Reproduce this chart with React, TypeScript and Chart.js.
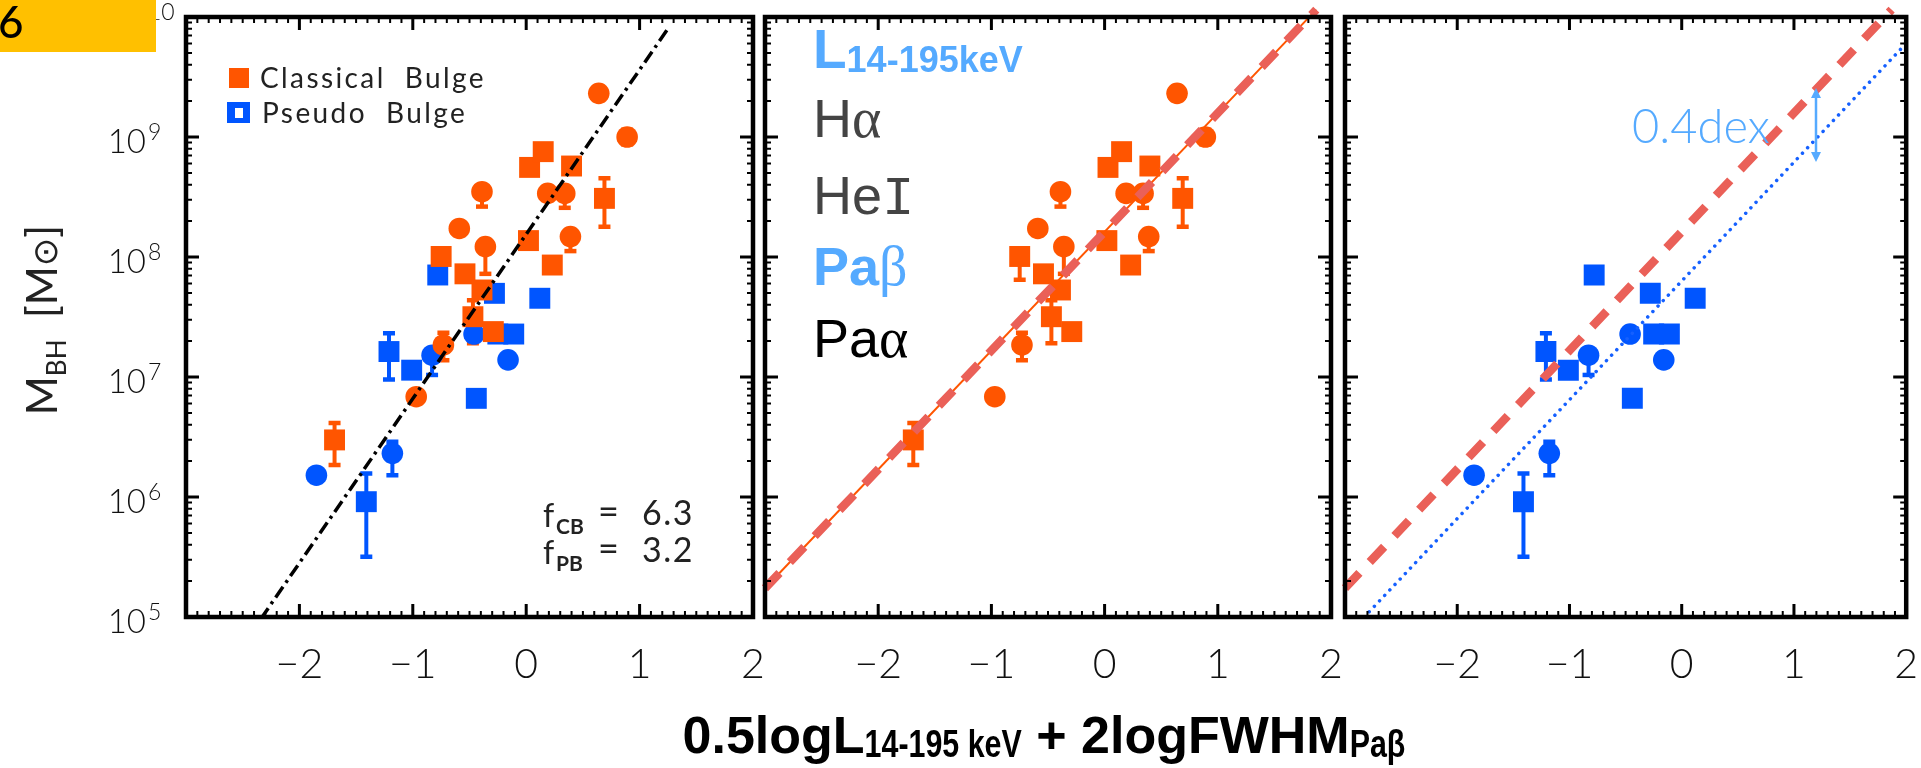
import React, { useEffect, useRef } from 'react';
import { Chart, registerables } from 'chart.js';

Chart.register(...registerables);

const PAGE_W = 1921;
const PAGE_H = 768;

// ---------- axes ----------
const xRange = [-3, 2];
const yRange = [1e5, 1e10];
const xTickLabelValues = [-2, -1, 0, 1, 2];
const xTickLabels = ['\u22122', '\u22121', '0', '1', '2'];
const yDecadeExponents = [5, 6, 7, 8, 9, 10];

// ---------- Classical bulges (orange) ----------
const cbX = [-1.69, -0.97, -0.75, -0.73, -0.59, -0.54, -0.47, -0.39, -0.39, -0.36, -0.29, 0.02, 0.03, 0.15, 0.19, 0.34, 0.39, 0.40, 0.64, 0.69, 0.89, 0.23];
const cbMass = [2.99e6, 6.85e6, 1.01e8, 1.85e7, 1.73e8, 7.24e7, 3.18e7, 5.31e7, 3.5e8, 1.22e8, 2.39e7, 1.37e8, 5.58e8, 7.55e8, 3.39e8, 3.39e8, 1.48e8, 5.73e8, 2.31e9, 3.08e8, 1.0e9, 8.57e7];
const cbErrLow = [1.85e6, null, 6.46e7, 1.38e7, null, null, 1.91e7, null, 2.63e8, 7.24e7, null, null, null, null, null, 2.57e8, 1.12e8, null, null, 1.79e8, 8.7e8, null];
const cbErrHigh = [4.14e6, null, null, 2.34e7, null, null, 4.37e7, null, null, null, null, null, null, null, null, null, null, null, null, 4.53e8, 1.15e9, null];
const cbShape = ['s', 'c', 's', 'c', 'c', 's', 's', 's', 'c', 'c', 's', 's', 's', 's', 'c', 'c', 'c', 's', 'c', 's', 'c', 's'];

// ---------- Pseudo bulges (blue) ----------
const pbX = [-1.85, -1.41, -1.21, -1.18, -1.01, -0.83, -0.78, -0.46, -0.44, -0.28, -0.25, -0.16, -0.11, 0.12];
const pbMass = [1.52e6, 9.14e5, 1.63e7, 2.31e6, 1.14e7, 1.52e7, 7.08e7, 2.28e7, 6.64e6, 4.98e7, 2.28e7, 1.39e7, 2.28e7, 4.53e7];
const pbErrLow = [null, 3.18e5, 9.55e6, 1.52e6, null, 1.04e7, null, null, null, null, null, null, null, null];
const pbErrHigh = [null, 1.57e6, 2.31e7, 2.89e6, null, null, null, null, null, null, null, null, null, null];
const pbShape = ['c', 's', 's', 'c', 's', 'c', 's', 'c', 's', 's', 's', 'c', 's', 's'];

// ---------- relations: log M = a + b x ----------
const dashDotFitX = [-2.34, 1.26];
const dashDotFitCoef = [8.19, 1.37];
const cbRelX = [-3, 1.87];
const cbRelCoef = [8.21, 0.99];
const pbRelX = [-2.83, 2];
const pbRelCoef = [7.8, 0.99];

// ---------- layout ----------
const panelLeft = [186, 765, 1345];
const panelRight = [753, 1331, 1913];
const panelTop = 17;
const panelBottom = 617;

const ORANGE = '#FF5500';
const BLUE = '#0055FF';
const SALMON = '#EA6058';
const LIGHTBLUE = '#55AAFF';
const SANS = '"Liberation Sans", Arial, sans-serif';
const LATO = 'Lato, "Open Sans", sans-serif';

type Seg = { t: string; font: string; dy?: number; sx?: number; color?: string };

function segW(ctx: CanvasRenderingContext2D, s: Seg) {
  ctx.font = s.font;
  return ctx.measureText(s.t).width * (s.sx ?? 1);
}

function drawSegs(ctx: CanvasRenderingContext2D, segs: Seg[], x: number, y: number, align: 'left' | 'center') {
  const total = segs.reduce((a, s) => a + segW(ctx, s), 0);
  let cx = align === 'center' ? x - total / 2 : x;
  for (const s of segs) {
    const w = segW(ctx, s);
    ctx.save();
    ctx.font = s.font;
    if (s.color) ctx.fillStyle = s.color;
    ctx.textAlign = 'left';
    ctx.textBaseline = 'alphabetic';
    ctx.translate(cx, y + (s.dy ?? 0));
    ctx.scale(s.sx ?? 1, 1);
    ctx.fillText(s.t, 0, 0);
    ctx.restore();
    cx += w;
  }
}

function pointsDataset(label: string, xs: number[], ms: number[], shapes: string[], color: string, lo: (number | null)[], hi: (number | null)[]) {
  return {
    label,
    data: xs.map((x, k) => ({ x, y: ms[k] })),
    showLine: false,
    pointStyle: shapes.map((s) => (s === 's' ? 'rect' : 'circle')),
    pointRadius: shapes.map((s) => (s === 's' ? 14.8 : 10.8)),
    pointHoverRadius: shapes.map((s) => (s === 's' ? 14.8 : 10.8)),
    pointBackgroundColor: color,
    pointBorderColor: color,
    pointBorderWidth: 0,
    errLow: lo,
    errHigh: hi,
    errColor: color,
  };
}

function relDataset(label: string, xr: number[], coef: number[], color: string, width: number, dash: number[], cap: string, noClip: boolean) {
  const ds: any = {
    label,
    data: xr.map((x) => ({ x, y: Math.pow(10, coef[0] + coef[1] * x) })),
    showLine: true,
    pointRadius: 0,
    pointHoverRadius: 0,
    borderColor: color,
    backgroundColor: color,
    borderWidth: width,
    borderDash: dash,
    borderCapStyle: cap,
    fill: false,
    tension: 0,
  };
  if (noClip) ds.clip = false;
  return ds;
}

function drawFrame(chart: any) {
  const { ctx, chartArea: a } = chart;
  const xs = chart.scales.x;
  const ys = chart.scales.y;
  ctx.save();
  ctx.strokeStyle = '#000';
  ctx.lineCap = 'butt';
  for (let i = -30; i <= 20; i++) {
    const px = xs.getPixelForValue(i / 10);
    const major = i % 10 === 0;
    const len = major ? 13 : 6;
    ctx.lineWidth = major ? 3 : 2;
    ctx.beginPath();
    ctx.moveTo(px, a.bottom);
    ctx.lineTo(px, a.bottom - len);
    ctx.moveTo(px, a.top);
    ctx.lineTo(px, a.top + len);
    ctx.stroke();
  }
  for (const e of yDecadeExponents) {
    for (let m = 1; m <= 9; m++) {
      const v = m * Math.pow(10, e);
      if (v > yRange[1] * 1.0001) break;
      const py = ys.getPixelForValue(v);
      const major = m === 1;
      const len = major ? 13 : 6;
      ctx.lineWidth = major ? 3 : 2;
      ctx.beginPath();
      ctx.moveTo(a.left, py);
      ctx.lineTo(a.left + len, py);
      ctx.moveTo(a.right, py);
      ctx.lineTo(a.right - len, py);
      ctx.stroke();
    }
  }
  ctx.lineWidth = 4.5;
  ctx.strokeRect(a.left, a.top, a.right - a.left, a.bottom - a.top);
  ctx.restore();
}

function drawErrorBars(chart: any) {
  const { ctx } = chart;
  const xs = chart.scales.x;
  const ys = chart.scales.y;
  chart.data.datasets.forEach((ds: any) => {
    if (!ds.errLow) return;
    ctx.save();
    ctx.strokeStyle = ds.errColor;
    ctx.lineCap = 'butt';
    ds.data.forEach((p: any, k: number) => {
      const lo = ds.errLow[k];
      const hi = ds.errHigh[k];
      if (lo == null && hi == null) return;
      const px = xs.getPixelForValue(p.x);
      const py = ys.getPixelForValue(p.y);
      const yl = lo == null ? py : ys.getPixelForValue(lo);
      const yh = hi == null ? py : ys.getPixelForValue(hi);
      ctx.lineWidth = 4;
      ctx.beginPath();
      ctx.moveTo(px, yl);
      ctx.lineTo(px, yh);
      ctx.stroke();
      ctx.lineWidth = 4.5;
      ctx.beginPath();
      if (lo != null) {
        ctx.moveTo(px - 6, yl);
        ctx.lineTo(px + 6, yl);
      }
      if (hi != null) {
        ctx.moveTo(px - 6, yh);
        ctx.lineTo(px + 6, yh);
      }
      ctx.stroke();
    });
    ctx.restore();
  });
}

function drawXTickLabels(chart: any) {
  const { ctx } = chart;
  const xs = chart.scales.x;
  ctx.save();
  ctx.fillStyle = '#111';
  ctx.font = `300 41px ${LATO}`;
  ctx.textAlign = 'center';
  ctx.textBaseline = 'alphabetic';
  xTickLabelValues.forEach((v, k) => {
    ctx.fillText(xTickLabels[k], xs.getPixelForValue(v), 678);
  });
  ctx.restore();
}

function drawPanel0(chart: any) {
  const { ctx } = chart;
  const ys = chart.scales.y;
  ctx.save();
  ctx.fillStyle = '#111';
  // y tick labels
  for (const e of yDecadeExponents) {
    const py = ys.getPixelForValue(Math.pow(10, e));
    ctx.font = `300 33px ${LATO}`;
    ctx.textAlign = 'right';
    ctx.textBaseline = 'alphabetic';
    ctx.fillText('10', 146, py + 16);
    ctx.font = `300 23px ${LATO}`;
    ctx.textAlign = 'left';
    ctx.fillText(String(e), 148, py + 3);
  }
  // legend
  ctx.fillStyle = ORANGE;
  ctx.fillRect(229, 68, 20, 20);
  ctx.fillStyle = BLUE;
  ctx.fillRect(227, 102, 23, 21);
  ctx.fillStyle = '#fff';
  ctx.fillRect(235, 108, 8, 10);
  ctx.fillStyle = '#222';
  ctx.font = `28px ${LATO}`;
  ctx.textAlign = 'left';
  (ctx as any).letterSpacing = '2.4px';
  ctx.fillText('Classical  Bulge', 260, 88);
  ctx.fillText('Pseudo  Bulge', 262, 123);
  (ctx as any).letterSpacing = '0px';
  // f values
  const fRows = [
    { sub: 'CB', val: '6.3', base: 525 },
    { sub: 'PB', val: '3.2', base: 562 },
  ];
  for (const r of fRows) {
    ctx.fillStyle = '#222';
    ctx.font = `32px ${LATO}`;
    ctx.fillText('f', 543, r.base + 2);
    ctx.font = `bold 21px ${LATO}`;
    ctx.fillText(r.sub, 556, r.base + 9);
    ctx.font = `36px ${LATO}`;
    ctx.fillText('=', 598, r.base - 1);
    ctx.font = `34px ${LATO}`;
    (ctx as any).letterSpacing = '1.5px';
    ctx.fillText(r.val, 642, r.base);
    (ctx as any).letterSpacing = '0px';
  }
  // y-axis title
  ctx.save();
  ctx.translate(57, 320);
  ctx.rotate(-Math.PI / 2);
  ctx.fillStyle = '#222';
  drawSegs(ctx, [
    { t: 'M', font: `42px ${LATO}` },
    { t: 'BH', font: `26px ${LATO}`, dy: 9 },
    { t: '  [M', font: `42px ${LATO}` },
    { t: '\u2299', font: `34px "DejaVu Sans", sans-serif` },
    { t: ']', font: `42px ${LATO}` },
  ], 0, 0, 'center');
  ctx.restore();
  // x-axis title
  ctx.fillStyle = '#000';
  drawSegs(ctx, [
    { t: '0.5logL', font: `bold 52px ${SANS}` },
    { t: '14-195 keV', font: `bold 38px ${SANS}`, dy: 4, sx: 0.8 },
    { t: ' + 2logFWHM', font: `bold 52px ${SANS}` },
    { t: 'Pa\u03B2', font: `bold 38px ${SANS}`, dy: 4, sx: 0.8 },
  ], 1044, 753, 'center');
  // yellow tab
  ctx.fillStyle = '#FFC000';
  ctx.fillRect(0, 0, 156, 52);
  ctx.fillStyle = '#000';
  ctx.font = `500 44px ${LATO}`;
  ctx.textAlign = 'left';
  ctx.fillText('6', -2, 38);
  ctx.restore();
}

function drawPanel1(chart: any) {
  const { ctx } = chart;
  ctx.save();
  drawSegs(ctx, [
    { t: 'L', font: `bold 55px ${SANS}`, color: LIGHTBLUE },
    { t: '14-195keV', font: `bold 36px ${SANS}`, dy: 4, color: LIGHTBLUE },
  ], 813, 68, 'left');
  drawSegs(ctx, [
    { t: 'H', font: `54px ${SANS}`, color: '#444' },
    { t: '\u03B1', font: `56px "Liberation Serif", serif`, color: '#444' },
  ], 813, 137, 'left');
  drawSegs(ctx, [
    { t: 'He', font: `54px ${SANS}`, color: '#444' },
    { t: 'I', font: `54px "Liberation Mono", monospace`, color: '#444' },
  ], 813, 214, 'left');
  drawSegs(ctx, [
    { t: 'Pa', font: `bold 54px ${SANS}`, color: LIGHTBLUE },
    { t: '\u03B2', font: `56px "Liberation Serif", serif`, color: LIGHTBLUE },
  ], 813, 285, 'left');
  drawSegs(ctx, [
    { t: 'Pa', font: `54px ${SANS}`, color: '#000' },
    { t: '\u03B1', font: `56px "Liberation Serif", serif`, color: '#000' },
  ], 813, 357, 'left');
  ctx.restore();
}

function drawPanel2(chart: any) {
  const { ctx } = chart;
  ctx.save();
  ctx.fillStyle = LIGHTBLUE;
  ctx.font = `300 47px ${LATO}`;
  ctx.textAlign = 'left';
  ctx.textBaseline = 'alphabetic';
  ctx.fillText('0.4dex', 1632, 143);
  const ax = 1816;
  const y1 = 88;
  const y2 = 162;
  ctx.strokeStyle = LIGHTBLUE;
  ctx.lineWidth = 2.5;
  ctx.beginPath();
  ctx.moveTo(ax, y1 + 6);
  ctx.lineTo(ax, y2 - 6);
  ctx.stroke();
  ctx.beginPath();
  ctx.moveTo(ax, y1);
  ctx.lineTo(ax - 5, y1 + 10);
  ctx.lineTo(ax + 5, y1 + 10);
  ctx.closePath();
  ctx.moveTo(ax, y2);
  ctx.lineTo(ax - 5, y2 - 10);
  ctx.lineTo(ax + 5, y2 - 10);
  ctx.closePath();
  ctx.fill();
  ctx.restore();
}

function decorPlugin(idx: number) {
  return {
    id: 'decor' + idx,
    beforeDatasetsDraw(chart: any) {
      drawErrorBars(chart);
    },
    afterDatasetsDraw(chart: any) {
      drawFrame(chart);
    },
    afterDraw(chart: any) {
      drawXTickLabels(chart);
      if (idx === 0) drawPanel0(chart);
      if (idx === 1) drawPanel1(chart);
      if (idx === 2) drawPanel2(chart);
    },
  };
}

function buildConfig(idx: number): any {
  const datasets: any[] = [];
  const cb = pointsDataset('Classical Bulge', cbX, cbMass, cbShape, ORANGE, cbErrLow, cbErrHigh);
  const pb = pointsDataset('Pseudo Bulge', pbX, pbMass, pbShape, BLUE, pbErrLow, pbErrHigh);
  if (idx === 0) {
    datasets.push(relDataset('fit', dashDotFitX, dashDotFitCoef, '#000', 3.5, [13, 5, 3, 5], 'butt', false));
    datasets.push(cb);
    datasets.push(pb);
  } else if (idx === 1) {
    datasets.push(relDataset('CB relation', cbRelX, cbRelCoef, SALMON, 8.5, [21, 15], 'butt', true));
    datasets.push(relDataset('CB relation thin', cbRelX, cbRelCoef, ORANGE, 2, [], 'butt', true));
    datasets.push(cb);
  } else {
    datasets.push(relDataset('CB relation', cbRelX, cbRelCoef, SALMON, 8.5, [21, 15], 'butt', true));
    datasets.push(relDataset('PB relation', pbRelX, pbRelCoef, '#1560FF', 3.5, [0.01, 7.5], 'round', false));
    datasets.push(pb);
  }
  return {
    type: 'scatter',
    data: { datasets },
    options: {
      responsive: false,
      maintainAspectRatio: false,
      animation: false,
      events: [],
      devicePixelRatio: 1,
      layout: {
        padding: {
          left: panelLeft[idx],
          right: PAGE_W - panelRight[idx],
          top: panelTop,
          bottom: PAGE_H - panelBottom,
        },
      },
      plugins: {
        legend: { display: false },
        tooltip: { enabled: false },
        title: { display: false },
      },
      scales: {
        x: { type: 'linear', min: xRange[0], max: xRange[1], display: false },
        y: { type: 'logarithmic', min: yRange[0], max: yRange[1], display: false },
      },
    },
    plugins: [decorPlugin(idx)],
  };
}

export default function App() {
  const r0 = useRef<HTMLCanvasElement>(null);
  const r1 = useRef<HTMLCanvasElement>(null);
  const r2 = useRef<HTMLCanvasElement>(null);
  useEffect(() => {
    const refs = [r0, r1, r2];
    const charts = refs.map((r, i) => new Chart(r.current as HTMLCanvasElement, buildConfig(i)));
    return () => charts.forEach((c) => c.destroy());
  }, []);
  const refs = [r0, r1, r2];
  return (
    <div style={{ position: 'absolute', left: 0, top: 0, width: PAGE_W, height: PAGE_H, background: '#fff', overflow: 'hidden' }}>
      {refs.map((r, i) => (
        <canvas
          key={i}
          ref={r}
          width={PAGE_W}
          height={PAGE_H}
          style={{ position: 'absolute', left: 0, top: 0, width: PAGE_W, height: PAGE_H }}
        />
      ))}
    </div>
  );
}
